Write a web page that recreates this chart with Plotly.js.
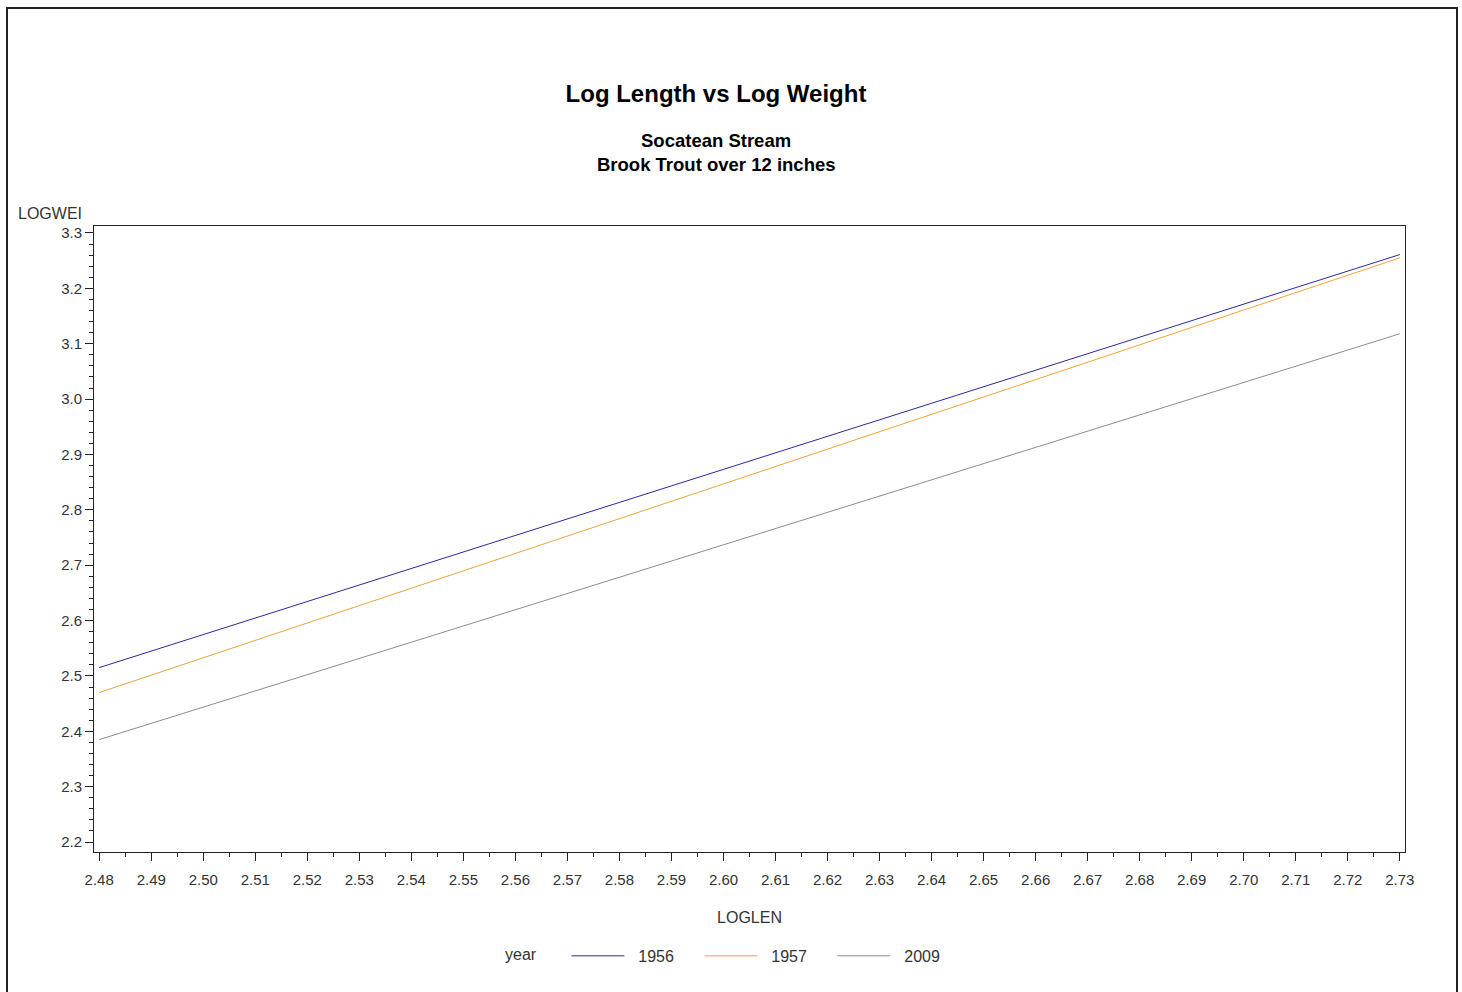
<!DOCTYPE html>
<html>
<head>
<meta charset="utf-8">
<script src="https://cdn.plot.ly/plotly-3.0.1.min.js"></script>
<style>
  html, body { margin: 0; padding: 0; background: #fff; }
  #wrap { position: relative; width: 1462px; height: 992px; }
  #chart { width: 1462px; height: 992px; }
  #frame { position: absolute; left: 6px; top: 7px; width: 1452px; height: 990px; border: 2px solid #222; box-sizing: border-box; pointer-events: none; }
</style>
</head>
<body>
<div id="wrap">
  <div id="chart"></div>
  <div id="frame"></div>
</div>
<script>
// Data
const years = ['1956', '1957', '2009'];
const logLen = [2.48, 2.73];
const logWei1956 = [2.515, 3.261];
const logWei1957 = [2.470, 3.255];
const logWei2009 = [2.385, 3.118];
const xTickVals = [2.48,2.49,2.50,2.51,2.52,2.53,2.54,2.55,2.56,2.57,2.58,2.59,2.60,2.61,2.62,2.63,2.64,2.65,2.66,2.67,2.68,2.69,2.70,2.71,2.72,2.73];
const yTickVals = [2.2,2.3,2.4,2.5,2.6,2.7,2.8,2.9,3.0,3.1,3.2,3.3];

const colors = ['#2a2a9c', '#eea43c', '#8c8c8c'];
const series = [logWei1956, logWei1957, logWei2009];

const traces = series.map((ys, i) => ({
  type: 'scatter',
  mode: 'lines',
  x: logLen,
  y: ys,
  name: '\u00a0\u00a0' + years[i],
  line: { color: colors[i], width: 1 }
}));

const font = 'Liberation Sans, Arial, sans-serif';

const layout = {
  width: 1462,
  height: 992,
  margin: { l: 94, r: 57, t: 226, b: 140 },
  paper_bgcolor: '#fff',
  plot_bgcolor: '#fff',
  font: { family: font, size: 15, color: '#333' },
  showlegend: true,
  title: {
    text: '<b>Log Length vs Log Weight</b>',
    font: { family: font, size: 24, color: '#000' },
    x: 716 / 1462, xref: 'container', xanchor: 'center',
    y: 1 - 94 / 992, yref: 'container', yanchor: 'middle'
  },
  xaxis: {
    range: [2.479, 2.731],
    tickvals: xTickVals,
    ticktext: xTickVals.map(v => v.toFixed(2)),
    ticks: 'outside', ticklen: 8, tickcolor: '#222', tickwidth: 1,
    ticklabelstandoff: 6,
    showline: true, linecolor: '#222', linewidth: 1, mirror: true,
    showgrid: false, zeroline: false,
    tickfont: { family: font, size: 15, color: '#333' },
    minor: { dtick: 0.005, tick0: 2.48, ticks: 'outside', ticklen: 4, tickcolor: '#222', showgrid: false },
    title: { text: 'LOGLEN', font: { family: font, size: 16, color: '#333' }, standoff: 24 }
  },
  yaxis: {
    range: [2.182, 3.3126],
    tickvals: yTickVals,
    ticktext: yTickVals.map(v => v.toFixed(1)),
    ticks: 'outside', ticklen: 8, tickcolor: '#222', tickwidth: 1,
    showline: true, linecolor: '#222', linewidth: 1, mirror: true,
    showgrid: false, zeroline: false,
    tickfont: { family: font, size: 15, color: '#333' },
    minor: { dtick: 0.02, tick0: 2.2, ticks: 'outside', ticklen: 4, tickcolor: '#222', showgrid: false }
  },
  legend: {
    orientation: 'h',
    x: (503 - 94) / 1311, xanchor: 'left',
    y: -0.166, yanchor: 'middle',
    itemwidth: 53,
    entrywidth: 65,
    entrywidthmode: 'pixels',
    font: { family: font, size: 16, color: '#333' },
    title: { text: 'year     ', font: { family: font, size: 16, color: '#333' } },
    bgcolor: 'rgba(0,0,0,0)'
  },
  annotations: [
    { text: '<b>Socatean Stream</b>', xref: 'paper', yref: 'paper', x: (716 - 94) / 1311, y: (852 - 140) / 626,
      xanchor: 'center', yanchor: 'middle', showarrow: false, font: { family: font, size: 18.5, color: '#000' } },
    { text: '<b>Brook Trout over 12 inches</b>', xref: 'paper', yref: 'paper', x: (716 - 94) / 1311, y: (852 - 165) / 626,
      xanchor: 'center', yanchor: 'middle', showarrow: false, font: { family: font, size: 18.5, color: '#000' } },
    { text: 'LOGWEI', xref: 'paper', yref: 'paper', x: (16 - 94) / 1311, y: (852 - 213) / 626,
      xanchor: 'left', yanchor: 'middle', showarrow: false, font: { family: font, size: 16, color: '#333' } }
  ]
};

Plotly.newPlot('chart', traces, layout, { displayModeBar: false, staticPlot: true });
</script>
</body>
</html>
